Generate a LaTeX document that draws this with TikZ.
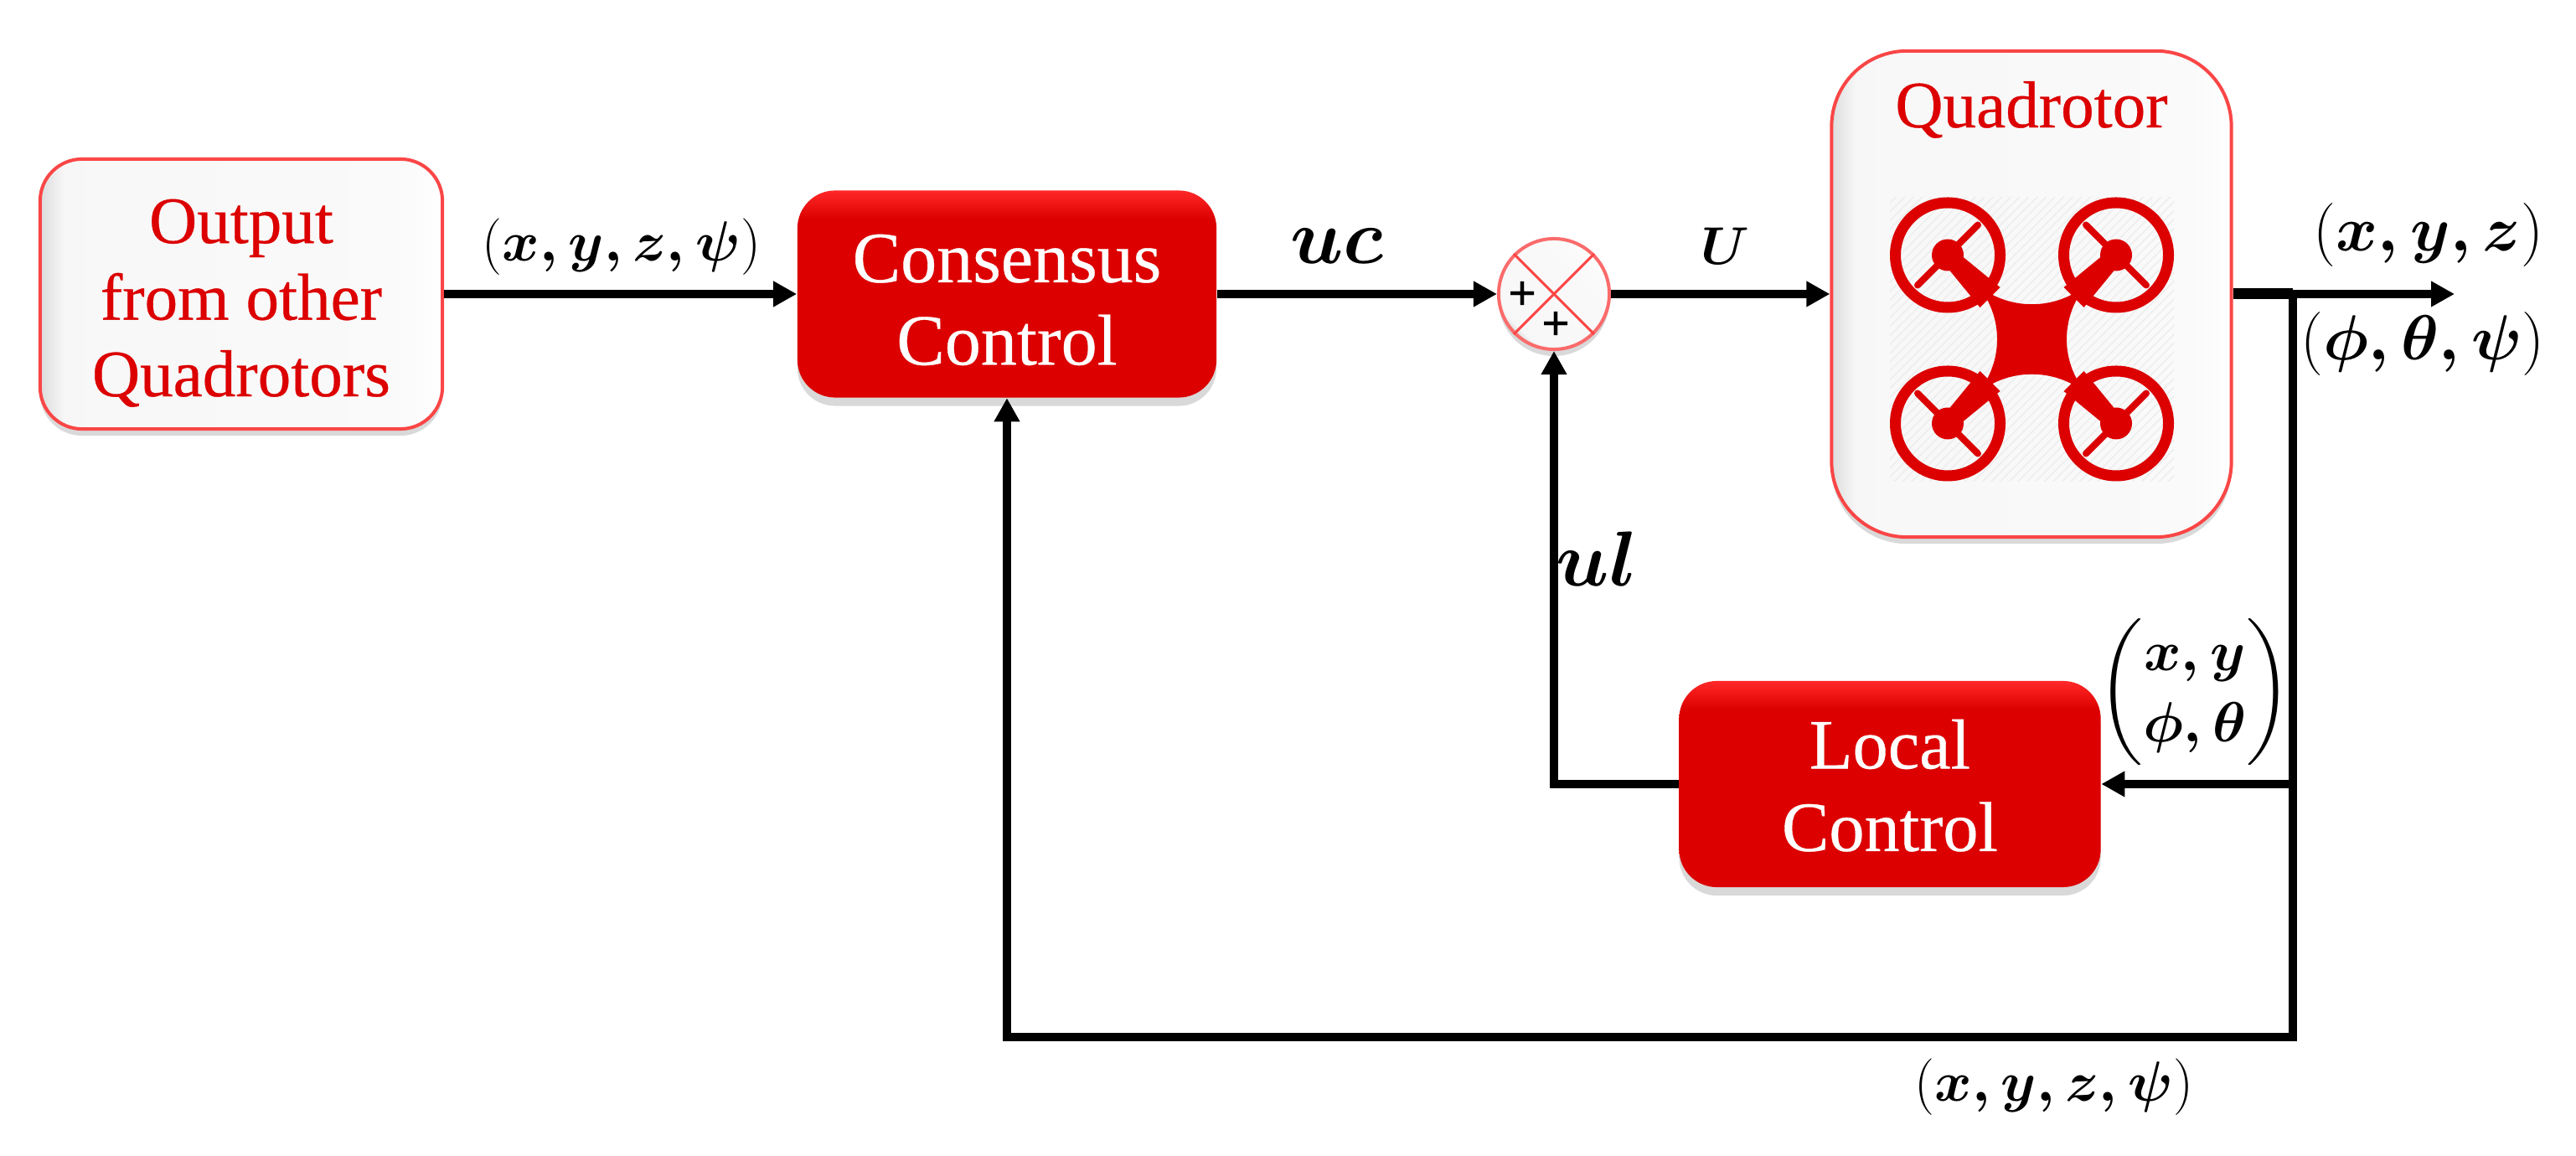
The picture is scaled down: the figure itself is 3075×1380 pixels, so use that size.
\documentclass[tikz,border=0pt]{standalone}
\usepackage{fix-cm}
\usepackage{amsmath}
\usepackage{fontspec}
\setmainfont{Liberation Serif}[FakeBold=0.4]
\usetikzlibrary{arrows.meta,shadows,patterns}
\definecolor{quadred}{RGB}{220,0,0}
\definecolor{glossred}{RGB}{255,40,40}
\definecolor{edgered}{RGB}{250,70,70}
\pgfdeclareverticalshading{redgloss}{100bp}{color(0bp)=(quadred); color(25bp)=(quadred); color(68bp)=(quadred); color(75bp)=(glossred); color(100bp)=(glossred)}
\pgfdeclarehorizontalshading{whitegloss}{100bp}{color(0bp)=(black!14); color(25bp)=(black!14); color(28bp)=(black!3); color(70bp)=(black!2); color(75bp)=(white); color(100bp)=(white)}
\tikzset{
    blockred/.style={shade,shading=redgloss,rounded corners=0.45cm,text=white,align=center,
        font=\fontsize{24.5}{28}\selectfont,drop shadow={shadow xshift=0cm,shadow yshift=-0.1cm,opacity=0.3}},
    blockwhite/.style={draw=edgered,line width=0.04cm,shade,shading=whitegloss,text=quadred,align=center,
        drop shadow={shadow xshift=0cm,shadow yshift=-0.08cm,opacity=0.3}},
    wire/.style={line width=0.095cm,draw=black},
    arrowwire/.style={wire,-{Triangle[length=0.28cm,width=0.29cm]}},
    lbl/.style={font=\fontsize{21.6}{26}\selectfont,inner sep=0pt},
    lblsmall/.style={font=\fontsize{19.2}{24}\selectfont,inner sep=0pt},
    lblbig/.style={font=\fontsize{26.5}{30}\selectfont,inner sep=0pt},
    plussign/.style={font=\fontsize{17}{17}\selectfont\bfseries,inner sep=0pt}
}
\newcommand{\bolditem}[1]{\ensuremath{\boldsymbol{#1}}}
\newcommand{\topgap}[1]{\rule{0pt}{#1}}
\begin{document}
\begin{tikzpicture}[x=0.01cm,y=-0.01cm]
    \useasboundingbox (0,0) rectangle (3075,1380);
    \node[blockwhite,rounded corners=0.5cm,minimum width=4.8cm,minimum height=3.22cm,
        font=\fontsize{22.5}{26}\selectfont] (other) at (288,351) {\topgap{0.74cm}Output\\from other\\Quadrotors};
    \node[blockred,minimum width=5cm,minimum height=2.47cm] (cons) at (1202,351) {\topgap{0.71cm}Consensus\\Control};
    \node[blockwhite,circle,minimum size=1.32cm,inner sep=0pt,shading angle=45,draw=edgered!80!white] (sum) at (1855,351) {};
    \node[blockwhite,rounded corners=0.9cm,minimum width=4.77cm,minimum height=5.8cm] (quad) at (2425,351) {};
    \node[blockred,minimum width=5.03cm,minimum height=2.46cm,font=\fontsize{24}{28}\selectfont] (local) at (2256,936) {\topgap{0.62cm}Local\\Control};

    \draw[edgered,line width=0.03cm] (sum.45) -- (sum.225);
    \draw[edgered,line width=0.03cm] (sum.135) -- (sum.315);
    \node[plussign] (plusa) at (1817,353) {+};
    \node[plussign] (plusb) at (1857,389) {+};

    \node[text=quadred,font=\fontsize{22.5}{26}\selectfont] (quadname) at (2425,131) {Quadrotor};
    \fill[pattern=north east lines,pattern color=black!7] (2256,236) rectangle (2595,575);
    \foreach \sx/\sy in {-1/-1,1/-1,-1/1,1/1} {
        \draw[quadred,line width=0.13cm] (2425.5+\sx*100.5,405+\sy*100.5) circle (62.5);
        \fill[quadred] (2425.5+\sx*50+\sy*12,405+\sy*50-\sx*12) -- (2425.5+\sx*100.5+\sy*7,405+\sy*100.5-\sx*7)
            -- (2425.5+\sx*100.5-\sy*7,405+\sy*100.5+\sx*7) -- (2425.5+\sx*50-\sy*12,405+\sy*50+\sx*12) -- cycle;
        \fill[quadred] (2425.5+\sx*100.5,405+\sy*100.5) circle (19);
        \draw[quadred,line width=0.08cm,line cap=round] (2425.5+\sx*100.5+\sy*36,405+\sy*100.5-\sx*36)
            -- (2425.5+\sx*100.5-\sy*36,405+\sy*100.5+\sx*36);
    }
    \fill[quadred] (2357,337) .. controls (2395,372) and (2456,372) .. (2494,337)
        .. controls (2458,375) and (2458,435) .. (2494,473)
        .. controls (2456,438) and (2395,438) .. (2357,473)
        .. controls (2393,435) and (2393,375) .. (2357,337) -- cycle;

    \coordinate (junc) at (2737,351);
    \coordinate (outp) at (2930,351);
    \coordinate (tap) at (2737,936);
    \coordinate (ret) at (2737,1238);

    \draw[arrowwire] (other.east) -- (cons.west);
    \draw[arrowwire] (cons.east) -- (sum.west);
    \draw[arrowwire] (sum.east) -- (quad.west);
    \draw[wire,line width=0.13cm] (quad.east) -- (junc);
    \draw[arrowwire] (junc) -- (outp);
    \draw[arrowwire] (junc) -- (ret) -| (cons.south);
    \draw[arrowwire] (tap) -- (local.east);
    \draw[arrowwire] (local.west) -| (sum.south);

    \node[lblsmall] (inlabel) at (742,295) {$(\bolditem{x,y,z,\psi})$};
    \node[lblbig] (uclabel) at (1596,294) {$\bolditem{uc}$};
    \node[lblsmall,font=\fontsize{18}{20}\selectfont] (ulabel) at (2059,294) {$\bolditem{U}$};
    \node[lblbig] (ullabel) at (1906,667) {$\bolditem{ul}$};
    \node[lbl] (poslabel) at (2899,281) {$(\bolditem{x,y,z})$};
    \node[lbl] (anglabel) at (2892,411) {$(\bolditem{\phi,\theta,\psi})$};
    \node[lblsmall] (loclabel) at (2620,826) {$\begin{pmatrix}\bolditem{x,y}\\ \bolditem{\phi,\theta}\end{pmatrix}$};
    \node[lblsmall] (retlabel) at (2452,1298) {$(\bolditem{x,y,z,\psi})$};
\end{tikzpicture}
\end{document}
